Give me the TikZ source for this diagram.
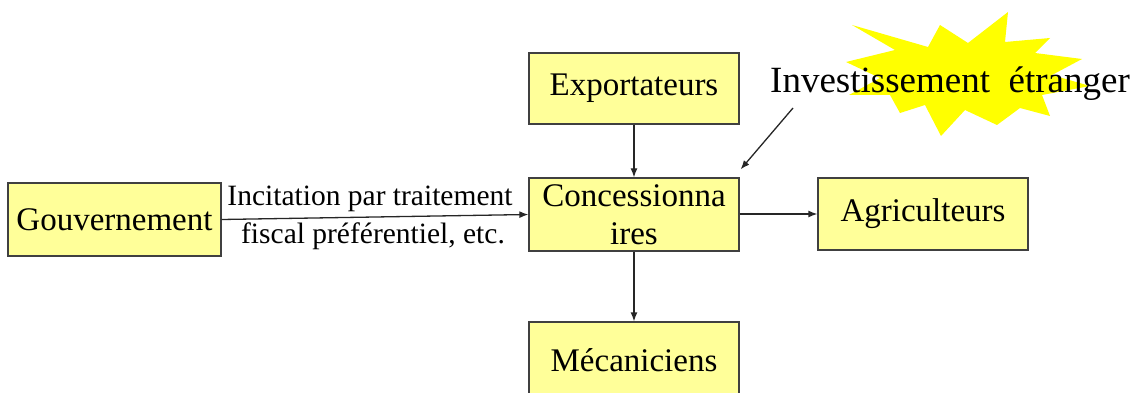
\documentclass[tikz,border=0pt]{standalone}
\usepackage{fontspec}
\setmainfont{Liberation Serif}
\usetikzlibrary{arrows.meta}
\definecolor{boxfill}{HTML}{FFFF99}
\definecolor{boxline}{HTML}{404040}
\definecolor{burst}{HTML}{FFFF00}
\tikzset{
  actor/.style={draw=boxline, line width=1.3pt, fill=boxfill, minimum width=210, minimum height=72,
    inner sep=0pt, font=\fontsize{33}{38}\selectfont, align=center},
  link/.style={draw=black!85, line width=1.3pt, -{Latex[length=9pt,width=7pt]}},
  note/.style={font=\fontsize{29.5}{34}\selectfont, inner sep=0pt}
}
\begin{document}
\begin{tikzpicture}[x=1pt, y=-1pt]
\useasboundingbox (0,0) rectangle (1138,393);
% starburst behind the foreign-investment label
\fill[burst] (852,25) -- (928,47) -- (940,25) -- (968,43) -- (1008,12) -- (1005,42)
  -- (1050,38) -- (1035,53) -- (1082,59) -- (1052,75) -- (1090,86) -- (1042,95)
  -- (1050,116) -- (1020,108) -- (997,125) -- (965,110) -- (941,136) -- (925,105)
  -- (900,113) -- (890,95) -- (849,95) -- (880,78) -- (846,62) -- (895,50) -- cycle;
\node[font=\fontsize{37}{42}\selectfont, inner sep=0pt, anchor=base west] (inv) at (770,93)
  {Investissement\ \ étranger};
% actors
\node[actor, minimum width=213, minimum height=73] (gouv) at (114.5,219.5) {Gouvernement};
\node[actor, minimum height=71] (expo) at (634,88.5) {Exportateurs};
\node[actor, minimum height=73] (conc) at (634,214.5) {Concessionna\\ires};
\node[actor] (agri) at (923,214) {Agriculteurs};
\node[actor, minimum height=76] (meca) at (634,360) {Mécaniciens};
% flows
\draw[link] (gouv.east) -- (conc.west);
\node[note] (lab1) at (370,199) {Incitation par traitement};
\node[note] (lab2) at (373,236) {fiscal préférentiel, etc.};
\draw[link] (expo.south) -- (conc.north);
\draw[link] (conc.east |- agri.west) -- (agri.west);
\draw[link] (conc.south) -- (meca.north);
\coordinate (invtail) at (793,108);
\draw[link] (invtail) -- ([xshift=1pt, yshift=8pt]conc.north east);
\end{tikzpicture}
\end{document}
